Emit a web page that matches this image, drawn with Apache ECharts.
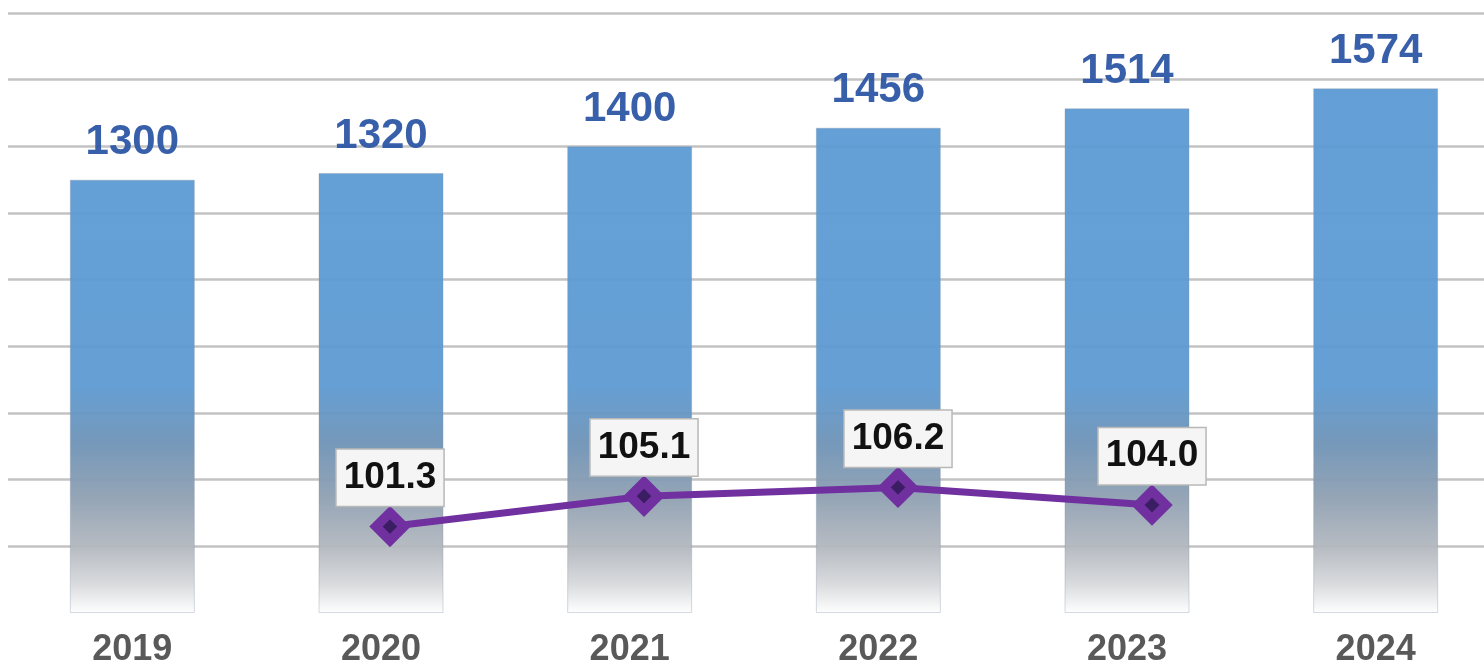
<!DOCTYPE html>
<html>
<head>
<meta charset="utf-8">
<script src="https://cdn.jsdelivr.net/npm/echarts@6/dist/echarts.min.js"></script>
<style>
html,body{margin:0;padding:0;background:#fff;}
#chart{width:1484px;height:663px;}
</style>
</head>
<body>
<div id="chart"></div>
<script>
const categories = ['2019', '2020', '2021', '2022', '2023', '2024'];
const barValues = [1300, 1320, 1400, 1456, 1514, 1574];
const lineValues = [null, 101.3, 105.1, 106.2, 104.0, null];

const chart = echarts.init(document.getElementById('chart'), null, {renderer: 'canvas'});
const FONT = '"Liberation Sans", Arial, sans-serif';

const barGradient = {
  type: 'linear', x: 0, y: 0, x2: 0, y2: 663, global: true,
  colorStops: [
    {offset: 0, color: '#5B9BD5'},
    {offset: 0.58, color: '#5D9AD2'},
    {offset: 0.67, color: '#6F93B6'},
    {offset: 0.75, color: '#8FA0B2'},
    {offset: 0.825, color: '#B3B8BF'},
    {offset: 0.88, color: '#D6D8DB'},
    {offset: 0.925, color: '#FFFFFF'}
  ]
};

chart.setOption({
  backgroundColor: '#ffffff',
  animation: false,
  grid: [
    {left: 8, width: 1492, top: 13, height: 600, containLabel: false, outerBoundsMode: 'none'},
    {left: 9, width: 1524, top: 13, height: 600, containLabel: false, outerBoundsMode: 'none'}
  ],
  xAxis: [
    {
      type: 'category', gridIndex: 0,
      data: categories,
      axisLine: {show: false},
      axisTick: {show: false},
      axisLabel: {
        color: '#595959', fontSize: 36, fontWeight: 'bold', fontFamily: FONT, margin: 19
      }
    },
    {
      type: 'category', gridIndex: 1, data: categories, show: false
    }
  ],
  yAxis: [
    {
      type: 'value', gridIndex: 0, min: 0, max: 1800, interval: 200,
      axisLabel: {show: false}, axisLine: {show: false}, axisTick: {show: false},
      splitLine: {show: true, showMinLine: false, lineStyle: {color: '#C3C3C3', width: 2.5}}
    },
    {
      type: 'value', gridIndex: 1, min: 90.5, max: 165.5,
      axisLabel: {show: false}, axisLine: {show: false}, axisTick: {show: false},
      splitLine: {show: false}
    }
  ],
  series: [
    {
      type: 'bar',
      data: barValues,
      barWidth: 125,
      itemStyle: {color: barGradient, borderColor: 'rgba(130,145,165,0.35)', borderWidth: 1, opacity: 0.95},
      label: {
        show: true, position: 'top', distance: 16,
        color: '#2D56A5', fontSize: 42, fontWeight: 'bold', fontFamily: FONT
      }
    },
    {
      type: 'line',
      xAxisIndex: 1,
      yAxisIndex: 1,
      data: lineValues,
      connectNulls: false,
      symbol: 'diamond',
      symbolSize: 28,
      lineStyle: {color: '#7030A0', width: 7},
      itemStyle: {color: '#3A1D62', borderColor: '#7030A0', borderWidth: 9.5},
      label: {
        show: true, position: 'top', distance: 2,
        color: '#111111', fontSize: 37, fontWeight: 'bold', fontFamily: FONT,
        backgroundColor: '#F5F5F5', borderColor: '#B8B8B8', borderWidth: 1.5,
        padding: [9, 7, 9, 7], lineHeight: 38,
        formatter: p => p.value == null ? '' : Number(p.value).toFixed(1)
      },
      z: 5
    }
  ]
});
</script>
</body>
</html>
